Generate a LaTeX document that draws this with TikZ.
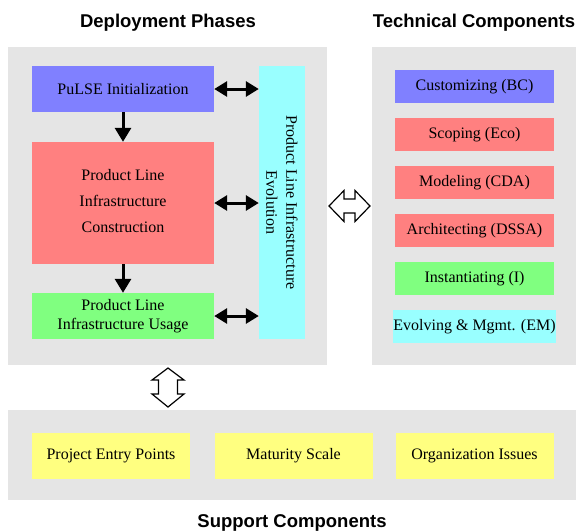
\documentclass[tikz,border=0pt]{standalone}
\usepackage{fontspec}
\setmainfont{Liberation Serif}
\newfontfamily\headfont{Liberation Sans}
\usetikzlibrary{arrows.meta}
\definecolor{panelgrey}{HTML}{E5E5E5}
\definecolor{boxblue}{HTML}{8080FF}
\definecolor{boxred}{HTML}{FF8080}
\definecolor{boxgreen}{HTML}{80FF80}
\definecolor{boxcyan}{HTML}{99FFFF}
\definecolor{boxyellow}{HTML}{FFFF80}
\begin{document}
\begin{tikzpicture}[x=1pt,y=-1pt,
  panel/.style={fill=panelgrey, draw=none, inner sep=0pt},
  box/.style={draw=none, inner sep=0pt, align=center, font=\fontsize{16}{19}\selectfont},
  rbox/.style={box, minimum width=159pt, minimum height=33pt},
  ybox/.style={box, fill=boxyellow, minimum width=158pt, minimum height=46pt},
  title/.style={font=\headfont\bfseries\fontsize{18.5}{22}\selectfont, anchor=base, inner sep=0pt},
  link/.style={line width=3pt, {Triangle[length=13pt,width=15pt]}-{Triangle[length=13pt,width=15pt]}},
  down/.style={line width=3pt, -{Triangle[length=14pt,width=16pt]}},
  hollow/.style={draw=black, fill=white, line width=1.2pt, line join=miter}
]
\useasboundingbox (0,0) rectangle (576,531);
\fill[white] (0,0) rectangle (576,531);

% titles
\node[title] (t1) at (168,27) {Deployment Phases};
\node[title] (t2) at (474,27) {Technical Components};
\node[title] (t3) at (292,527) {Support Components};

% panels
\node[panel, minimum width=319pt, minimum height=318pt] (dp) at (167.5,206) {};
\node[panel, minimum width=204pt, minimum height=318pt] (tc) at (474,206) {};
\node[panel, minimum width=568pt, minimum height=90pt] (sc) at (292,455) {};

% deployment phases
\node[box, fill=boxblue, minimum width=182pt, minimum height=46pt] (init) at (123,89) {PuLSE Initialization};
\node[box, fill=boxred, minimum width=182pt, minimum height=122pt] (constr) at (123,203) {};
\node[box, font=\fontsize{16}{26}\selectfont] (constrtext) at (123,201) {Product Line\\Infrastructure\\Construction};
\node[box, fill=boxgreen, minimum width=182pt, minimum height=46pt] (usage) at (123,316) {Product Line\\Infrastructure Usage};
\node[box, fill=boxcyan, rotate=-90, minimum width=273pt, minimum height=46pt, font=\fontsize{16}{20}\selectfont] (evol) at (282,202.5) {Product Line Infrastructure\\Evolution};

\draw[down] (init) -- (constr);
\draw[down] (constr) -- (usage);
\draw[link] (init.east) -- (init.east -| evol.south);
\draw[link] (constr.east) -- (constr.east -| evol.south);
\draw[link] (usage.east) -- (usage.east -| evol.south);

% technical components
\node[rbox, fill=boxblue] (bc) at (474.5,86.5) {Customizing (BC)};
\node[rbox, fill=boxred] (eco) at (474.5,134.5) {Scoping (Eco)};
\node[rbox, fill=boxred] (cda) at (474.5,182.5) {Modeling (CDA)};
\node[rbox, fill=boxred] (dssa) at (474.5,230.5) {Architecting (DSSA)};
\node[rbox, fill=boxgreen] (inst) at (474.5,278.5) {Instantiating (I)};
\node[rbox, fill=boxcyan] (em) at (474.5,326.5) {Evolving \& Mgmt. (EM)};

% support components
\node[ybox] (pep) at (111,456) {Project Entry Points};
\node[ybox] (ms) at (293.5,456) {Maturity Scale};
\node[ybox] (oi) at (474.5,456) {Organization Issues};

% hollow double arrows
\draw[hollow] (329,206) -- (344,190.5) -- (344,199) -- (355,199) -- (355,190.5) -- (370,206)
  -- (355,221.5) -- (355,213) -- (344,213) -- (344,221.5) -- cycle;
\draw[hollow] (168,368) -- (184,380) -- (177.5,380) -- (177.5,394) -- (184,394) -- (168,407)
  -- (152,394) -- (158.5,394) -- (158.5,380) -- (152,380) -- cycle;
\end{tikzpicture}
\end{document}
